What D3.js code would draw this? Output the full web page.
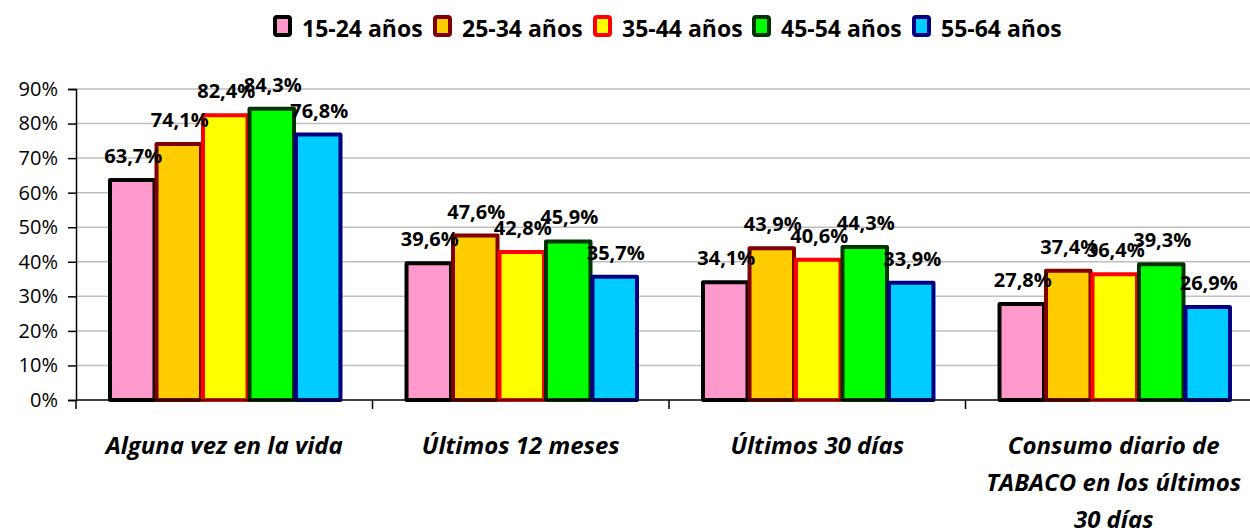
<!DOCTYPE html>
<html>
<head>
<meta charset="utf-8">
<script src="https://cdn.jsdelivr.net/npm/d3@7"></script>
<style>
  body { margin: 0; background: #fff; }
  text { font-family: "Open Sans", "DejaVu Sans", sans-serif; }
</style>
</head>
<body>
<div id="chart"></div>
<script>
// Data
var categories = ["Alguna vez en la vida", "Últimos 12 meses", "Últimos 30 días", "Consumo diario de|TABACO en los últimos|30 días"];
var groups = ["15-24 años", "25-34 años", "35-44 años", "45-54 años", "55-64 años"];
var s1524 = [63.7, 39.6, 34.1, 27.8];
var s2534 = [74.1, 47.6, 43.9, 37.4];
var s3544 = [82.4, 42.8, 40.6, 36.4];
var s4554 = [84.3, 45.9, 44.3, 39.3];
var s5564 = [76.8, 35.7, 33.9, 26.9];
var yTicks = [0, 10, 20, 30, 40, 50, 60, 70, 80, 90];

var fills = ["#FF99CC", "#FFCC00", "#FFFF00", "#00FF00", "#00CCFF"];
var strokes = ["#000000", "#800000", "#FF0000", "#003300", "#000080"];
var series = [s1524, s2534, s3544, s4554, s5564];

var svgWidth = 1250, svgHeight = 530;
var margin = { top: 89, left: 76 };
var width = 1186, height = 311;

var svg = d3.select("#chart").append("svg")
  .attr("width", svgWidth)
  .attr("height", svgHeight);

var chartGroup = svg.append("g")
  .attr("transform", `translate(${margin.left}, ${margin.top})`);

// Scales
var x0 = d3.scaleBand().domain(categories).range([0, width]).paddingInner(0.216).paddingOuter(0.108);
var x1 = d3.scaleBand().domain(groups).range([0, x0.bandwidth()]);
var y = d3.scaleLinear().domain([0, 90]).range([height, 0]);

// Gridlines
chartGroup.append("g").selectAll("line")
  .data(yTicks.slice(1))
  .enter().append("line")
  .attr("x1", 0).attr("x2", width)
  .attr("y1", d => y(d)).attr("y2", d => y(d))
  .attr("stroke", "#BFBFBF").attr("stroke-width", 1.5);

// Bars
var catGroups = chartGroup.selectAll(".cat")
  .data(categories)
  .enter().append("g")
  .attr("class", "cat")
  .attr("transform", d => `translate(${x0(d)},0)`);

catGroups.each(function(c, ci) {
  var g = d3.select(this);
  groups.forEach(function(grp, si) {
    var v = series[si][ci];
    g.append("rect")
      .attr("x", x1(grp) + 2)
      .attr("y", y(v))
      .attr("width", x1.bandwidth() - 2)
      .attr("height", y(0) - y(v))
      .attr("fill", fills[si])
      .attr("stroke", strokes[si])
      .attr("stroke-width", 4)
      .attr("stroke-linejoin", "round");
  });
  groups.forEach(function(grp, si) {
    var v = series[si][ci];
    g.append("text")
      .attr("x", x1(grp) + x1.bandwidth() / 2 + 2)
      .attr("y", y(v) - 17)
      .attr("text-anchor", "middle")
      .attr("font-size", "20px")
      .attr("font-weight", "bold")
      .attr("fill", "#000")
      .text(d3.format(".1f")(v).replace(".", ",") + "%");
  });
});

// Axes
var leftAxis = d3.axisLeft(y).tickValues(yTicks).tickSize(8).tickFormat(d => d + "%");
var yAxisG = chartGroup.append("g").call(leftAxis);
yAxisG.select(".domain").attr("stroke", "#000").attr("stroke-width", 1.5);
yAxisG.selectAll(".tick line").attr("stroke", "#000").attr("stroke-width", 1.5);
yAxisG.selectAll(".tick text")
  .attr("font-size", "20px").attr("fill", "#000")
  .attr("font-family", "'Open Sans', sans-serif")
  .attr("x", -18);

var xAxisG = chartGroup.append("g").attr("transform", `translate(0, ${height})`);
xAxisG.append("line").attr("x1", 0).attr("x2", width)
  .attr("stroke", "#000").attr("stroke-width", 1.5);
xAxisG.selectAll(".sep")
  .data(categories)
  .enter().append("line")
  .attr("x1", d => x0(d) - x0.step() * x0.paddingInner() / 2)
  .attr("x2", d => x0(d) - x0.step() * x0.paddingInner() / 2)
  .attr("y1", 0).attr("y2", 9)
  .attr("stroke", "#000").attr("stroke-width", 1.5);

// Category labels
xAxisG.selectAll(".catlabel")
  .data(categories)
  .enter().append("text")
  .attr("text-anchor", "middle")
  .attr("font-size", "24px")
  .attr("font-weight", "bold")
  .attr("font-style", "italic")
  .attr("fill", "#000")
  .each(function(d) {
    var t = d3.select(this);
    d.split("|").forEach(function(line, i) {
      t.append("tspan")
        .attr("x", x0(d) + x0.bandwidth() / 2)
        .attr("y", 54 + i * 37)
        .text(line);
    });
  });

// Legend
var legend = svg.append("g").attr("transform", "translate(273, 15)");
var legendX = [0, 160, 320, 479, 639];
groups.forEach(function(grp, i) {
  var item = legend.append("g").attr("transform", `translate(${legendX[i]},0)`);
  item.append("rect")
    .attr("x", 2).attr("y", 2).attr("width", 15).attr("height", 18)
    .attr("rx", 2)
    .attr("fill", fills[i]).attr("stroke", strokes[i]).attr("stroke-width", 4);
  item.append("text")
    .attr("x", 29).attr("y", 22)
    .attr("font-size", "23px").attr("font-weight", "bold").attr("fill", "#000")
    .text(grp);
});
</script>
</body>
</html>
